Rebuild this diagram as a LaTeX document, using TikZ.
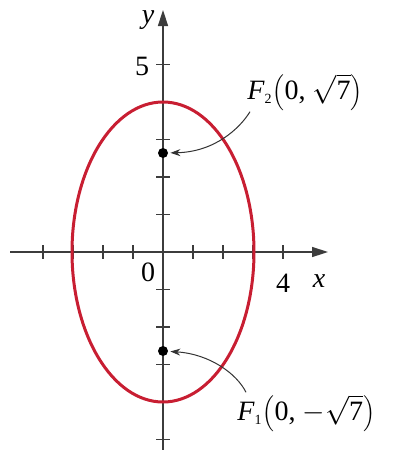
\documentclass[tikz,border=0pt]{standalone}
\usepackage{fontspec}
\setmainfont{Liberation Serif}
\usetikzlibrary{arrows.meta}
\definecolor{ellred}{RGB}{200,30,50}
\definecolor{axgray}{RGB}{60,60,60}
\begin{document}
\begin{tikzpicture}[x=0.5pt,y=-0.5pt,
  axis/.style={draw=axgray,line width=0.75pt,-{Triangle[length=8pt,width=5pt]}},
  tick/.style={draw=axgray,line width=0.75pt},
  ell/.style={draw=ellred,line width=1.5pt},
  dot/.style={circle,fill=black,inner sep=0pt,minimum size=5pt},
  lead/.style={draw=black!80,line width=0.5pt,-{Stealth[length=5pt,width=3.5pt]},shorten >=1pt},
  lab/.style={inner sep=0pt,font=\fontsize{14}{16}\selectfont}]
\useasboundingbox (0,0) rectangle (414,450);
% ticks
\foreach \i in {-4,-3,-2,-1,1,2,3,4}
  \draw[tick] (163+30*\i,245) -- (163+30*\i,259);
\foreach \j in {-5,-4,-3,-2,-1,1,2,3,4,5}
  \draw[tick] (156,252-37.5*\j) -- (170,252-37.5*\j);
% axes
\draw[axis] (10,252) -- (328,252);
\draw[axis] (163,452) -- (163,10);
% ellipse
\draw[ell] (163,252) ellipse [x radius=45.5pt, y radius=75pt];
% labels
\node[lab] (ylab) at (148,20) {\textit{y}};
\node[lab] (xlab) at (319,281) {\textit{x}};
\node[lab] (five) at (142,66) {5};
\node[lab] (zero) at (148,272) {0};
\node[lab] (four) at (283,283) {4};
% foci
\node[dot] (f2) at (163,153) {};
\node[dot] (f1) at (163,351) {};
\node[lab,anchor=west] (f2lab) at (247,92)
  {$\mbox{\textit{F}}_{\mbox{\scriptsize 2}}\!\left(\mbox{0, }\sqrt{\mbox{7}}\right)$};
\node[lab,anchor=west] (f1lab) at (237,413)
  {$\mbox{\textit{F}}_{\mbox{\scriptsize 1}}\!\left(\mbox{0, }{-}\sqrt{\mbox{7}}\right)$};
\draw[lead] (f2lab.south west) ++(3,1) .. controls (240,128) and (215,152) .. (f2);
\draw[lead] (f1lab.north west) ++(9,-2) .. controls (237,374) and (210,354) .. (f1);
\end{tikzpicture}
\end{document}
